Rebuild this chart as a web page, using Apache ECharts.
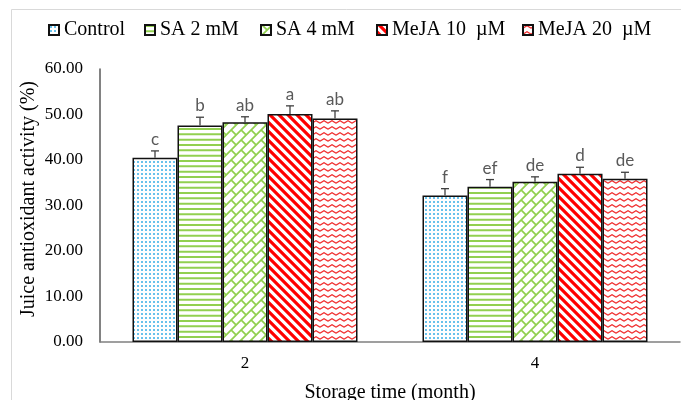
<!DOCTYPE html>
<html>
<head>
<meta charset="utf-8">
<script src="https://cdn.jsdelivr.net/npm/echarts@6/dist/echarts.min.js"></script>
<style>
html,body{margin:0;padding:0;background:#fff;}
#chart{width:681px;height:400px;}
</style>
</head>
<body>
<div id="chart"></div>
<script>
// ---- data ----
const categories = ['2', '4'];
const seriesNames = ['Control', 'SA 2 mM', 'SA 4 mM', 'MeJA 10  µM', 'MeJA 20  µM'];
const control = [40.5, 32.2];
const sa2 = [47.6, 34.1];
const sa4 = [48.3, 35.2];
const meja10 = [50.1, 37.0];
const meja20 = [49.1, 35.9];
const errControl = [1.5, 1.5];
const errSa2 = [1.8, 1.6];
const errSa4 = [1.2, 1.1];
const errMeja10 = [1.8, 1.4];
const errMeja20 = [1.7, 1.4];
const letControl = ['c', 'f'];
const letSa2 = ['b', 'ef'];
const letSa4 = ['ab', 'de'];
const letMeja10 = ['a', 'd'];
const letMeja20 = ['ab', 'de'];
const yTicks = [0, 10, 20, 30, 40, 50, 60];

const values = [control, sa2, sa4, meja10, meja20];
const errors = [errControl, errSa2, errSa4, errMeja10, errMeja20];
const letters = [letControl, letSa2, letSa4, letMeja10, letMeja20];

// ---- patterns ----
function mod(a, n) { return ((a % n) + n) % n; }
function makePattern(w, h, rgb, test) {
  const c = document.createElement('canvas');
  c.width = w; c.height = h;
  const ctx = c.getContext('2d');
  const img = ctx.createImageData(w, h);
  const N = 4;
  for (let y = 0; y < h; y++) {
    for (let x = 0; x < w; x++) {
      let cnt = 0;
      for (let j = 0; j < N; j++) for (let i = 0; i < N; i++) {
        if (test(x + (i + 0.5) / N, y + (j + 0.5) / N)) cnt++;
      }
      const cov = cnt / (N * N);
      const k = (y * w + x) * 4;
      img.data[k] = Math.round(255 + (rgb[0] - 255) * cov);
      img.data[k + 1] = Math.round(255 + (rgb[1] - 255) * cov);
      img.data[k + 2] = Math.round(255 + (rgb[2] - 255) * cov);
      img.data[k + 3] = 255;
    }
  }
  ctx.putImageData(img, 0, 0);
  return c;
}
const patDots = makePattern(4, 4, [70, 180, 232], (x, y) => (x - 2) * (x - 2) + (y - 2) * (y - 2) < 1.05 * 1.05);
const patHoriz = makePattern(4, 16, [146, 208, 80], (x, y) => mod(y, 16 / 3) < 2);
const patBrick = makePattern(20, 20, [146, 208, 80], (x, y) => {
  const u = x + y, v = x - y, hh = 10, L = 20, w = 2.4;
  const r = Math.floor(u / hh);
  if (mod(u, hh) < w) return true;
  const off = mod(r, 2) * L / 2;
  return mod(v + off, L) < w;
});
const patDiag = makePattern(9, 9, [255, 0, 0], (x, y) => mod(x - y, 9) < 4.5);
const patZig = makePattern(8, 6, [240, 50, 50], (x, y) => {
  const off = Math.abs(mod(x, 8) - 4) * 0.6;
  return mod(y - off, 6) < 1.5;
});
const patterns = [patDots, patHoriz, patBrick, patDiag, patZig];

const SERIF = '"Liberation Serif", "Times New Roman", serif';
const BAR_W = 45;

const chart = echarts.init(document.getElementById('chart'), null, { renderer: 'canvas' });

const barSeries = seriesNames.map((name, s) => ({
  name: name,
  type: 'bar',
  data: values[s],
  barWidth: BAR_W,
  barGap: '0%',
  itemStyle: {
    color: { image: patterns[s], repeat: 'repeat' },
    borderColor: '#111',
    borderWidth: 1.5
  },
  emphasis: { disabled: true },
  animation: false
}));

const errData = [];
for (let s = 0; s < values.length; s++) {
  for (let c = 0; c < categories.length; c++) {
    errData.push([c, values[s][c], errors[s][c], s, letters[s][c]]);
  }
}

const errSeries = {
  type: 'custom',
  data: errData,
  silent: true,
  animation: false,
  z: 10,
  renderItem: function (params, api) {
    const c = api.value(0), v = api.value(1), e = api.value(2), s = api.value(3);
    const letter = errData[params.dataIndex][4];
    const base = api.coord([c, v]);
    const top = api.coord([c, v + e]);
    const x = base[0] + (s - 2) * BAR_W;
    return {
      type: 'group',
      children: [
        { type: 'line', shape: { x1: x, y1: base[1], x2: x, y2: top[1] }, style: { stroke: '#404040', lineWidth: 1.3 } },
        { type: 'line', shape: { x1: x - 4, y1: top[1], x2: x + 4, y2: top[1] }, style: { stroke: '#404040', lineWidth: 1.3 } },
        { type: 'text', x: x, y: top[1] - 3, style: { text: letter, align: 'center', verticalAlign: 'bottom', font: '17px Lato, "Liberation Sans", sans-serif', fill: '#595959' } }
      ]
    };
  }
};

const legendLeft = [48, 144, 260, 376, 522];
const legends = seriesNames.map((name, s) => ({
  data: [name],
  left: legendLeft[s],
  top: 20,
  padding: 0,
  icon: 'rect',
  itemWidth: 10,
  itemHeight: 10,
  itemTextGap: 3,
  selectedMode: false,
  textStyle: { fontFamily: SERIF, fontSize: 20, color: '#000' }
}));

chart.setOption({
  animation: false,
  backgroundColor: '#fff',
  legend: legends,
  grid: { left: 100, right: 1, top: 69, bottom: 58, containLabel: false },
  xAxis: {
    type: 'category',
    data: categories,
    axisLine: { lineStyle: { color: '#808080', width: 1.5 } },
    axisTick: { show: false },
    axisLabel: { fontFamily: SERIF, fontSize: 17, color: '#000', margin: 13 }
  },
  yAxis: {
    type: 'value',
    min: 0,
    max: 60,
    interval: 10,
    axisLine: { show: true, lineStyle: { color: '#595959', width: 1.5 } },
    axisTick: { show: false },
    splitLine: { show: false },
    axisLabel: {
      fontFamily: SERIF, fontSize: 17, color: '#000', margin: 17,
      formatter: function (v) { return yTicks.indexOf(v) >= 0 ? v.toFixed(2) : ''; }
    }
  },
  graphic: [
    { type: 'rect', shape: { x: 11.5, y: 9.5, width: 700, height: 500 }, style: { fill: null, stroke: '#d9d9d9', lineWidth: 1 }, silent: true, z: -10 },
    { type: 'text', x: 29, y: 199, rotation: Math.PI / 2, style: { text: 'Juice antioxidant activity (%)', align: 'center', verticalAlign: 'middle', font: '20px ' + SERIF, fill: '#000' } },
    { type: 'text', x: 390, y: 393, style: { text: 'Storage time (month)', align: 'center', verticalAlign: 'middle', font: '20px ' + SERIF, fill: '#000' } }
  ],
  series: barSeries.concat([errSeries])
});
</script>
</body>
</html>
